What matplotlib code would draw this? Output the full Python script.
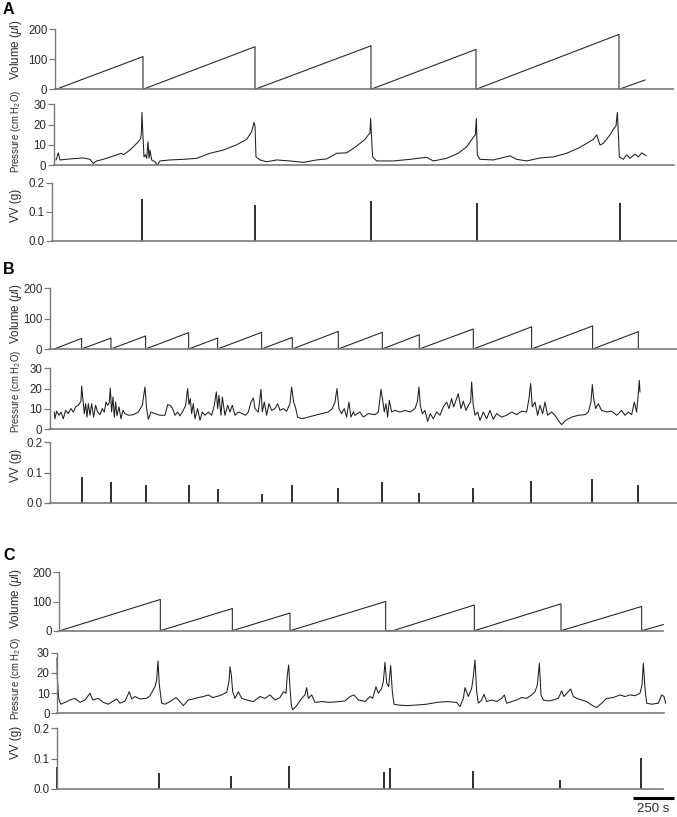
import matplotlib
matplotlib.use('Agg')
import matplotlib.pyplot as plt
from matplotlib import transforms

plt.rcParams['font.family'] = ['Liberation Sans', 'DejaVu Sans']
plt.rcParams['mathtext.fontset'] = 'custom'
plt.rcParams['mathtext.rm'] = 'Liberation Sans'
plt.rcParams['mathtext.it'] = 'Liberation Sans:italic'

# ---------------- data (time in s) ----------------
# panel A
a_vol_start = [0, 522, 1194, 1890, 2520, 3378]
a_vol_end = [522, 1194, 1890, 2520, 3378, 3534]
a_vol_peak = [109, 142, 145, 133, 183, 31]

a_pres_t = [0, 14, 24, 84, 164, 204, 224, 244, 284, 364,
            394, 404, 444, 494, 508, 512, 516, 522, 528, 536,
            544, 552, 558, 564, 574, 594, 608, 624, 684, 764,
            844, 924, 1004, 1084, 1144, 1174, 1188, 1194, 1200, 1224,
            1264, 1324, 1404, 1484, 1564, 1624, 1684, 1744, 1804, 1824,
            1854, 1874, 1884, 1888, 1894, 1900, 1914, 1924, 2024, 2124,
            2224, 2264, 2344, 2414, 2464, 2504, 2516, 2522, 2528, 2544,
            2624, 2724, 2764, 2824, 2904, 2984, 3064, 3144, 3224, 3244,
            3264, 3284, 3324, 3344, 3360, 3368, 3374, 3380, 3404, 3424,
            3444, 3474, 3494, 3514, 3540]
a_pres_p = [2.5, 6, 2.5, 3, 3.5, 2.8, 0.8, 2, 2.8, 5,
            5.8, 5, 7.4, 11.5, 13, 15.7, 26, 14, 4, 5,
            3.3, 11.5, 3.3, 7.4, 2.5, 1.6, 0, 2, 2.5, 2.8,
            3.3, 5.8, 7.4, 10, 12.7, 16.5, 21, 19.3, 4, 2.5,
            1.6, 2.5, 2, 1.3, 2.5, 3, 5.8, 6, 9.4, 10.7,
            12.7, 14.9, 15.7, 23, 12.4, 4, 2.8, 2, 2, 2.8,
            3.8, 2, 3.3, 5.8, 9, 13.7, 14.9, 23, 5, 2.8,
            2.5, 4.5, 2.8, 2, 3.5, 4, 5.8, 8.7, 12.7, 14.9,
            9.9, 10.7, 14.9, 17.7, 19.3, 26, 15.7, 4, 2.8, 5,
            3.3, 5.4, 4, 6, 4.6]

a_vv_t = [516, 1194, 1890, 2526, 3382]
a_vv_g = [0.143, 0.123, 0.138, 0.129, 0.131]

# panel B
b_vol_start = [0, 164, 340, 548, 806, 980, 1244, 1428, 1704, 1968, 2190, 2514, 2864, 3230]
b_vol_end = [164, 340, 548, 806, 980, 1244, 1428, 1704, 1968, 2190, 2514, 2864, 3230, 3504]
b_vol_peak = [35, 36, 43, 54, 36, 55, 38, 58, 55, 47, 66, 73, 76, 57]

b_pres_t = [0, 4, 14, 28, 40, 54, 68, 84, 100, 114,
            128, 144, 160, 164, 172, 180, 188, 196, 204, 214,
            224, 236, 248, 260, 274, 288, 300, 310, 320, 330,
            336, 344, 352, 360, 368, 376, 388, 400, 412, 424,
            444, 474, 504, 528, 544, 554, 564, 580, 604, 634,
            664, 680, 694, 708, 724, 740, 754, 774, 788, 800,
            808, 816, 824, 834, 844, 860, 874, 888, 904, 924,
            944, 960, 972, 980, 988, 1000, 1008, 1024, 1040, 1054,
            1068, 1084, 1104, 1128, 1148, 1164, 1180, 1194, 1204, 1224,
            1240, 1248, 1260, 1274, 1288, 1304, 1324, 1340, 1354, 1374,
            1394, 1414, 1424, 1436, 1448, 1460, 1484, 1524, 1564, 1604,
            1644, 1668, 1684, 1696, 1708, 1724, 1740, 1754, 1768, 1780,
            1794, 1804, 1834, 1854, 1884, 1924, 1944, 1954, 1960, 1972,
            1980, 1990, 2000, 2010, 2024, 2044, 2074, 2104, 2134, 2164,
            2178, 2188, 2196, 2208, 2224, 2240, 2256, 2274, 2294, 2314,
            2334, 2354, 2368, 2384, 2396, 2410, 2424, 2440, 2454, 2470,
            2484, 2498, 2504, 2514, 2524, 2540, 2554, 2574, 2594, 2614,
            2634, 2654, 2684, 2714, 2744, 2774, 2804, 2834, 2848, 2858,
            2868, 2884, 2900, 2914, 2930, 2944, 2960, 2984, 3004, 3028,
            3044, 3068, 3104, 3144, 3184, 3204, 3220, 3228, 3236, 3248,
            3264, 3284, 3314, 3344, 3374, 3404, 3424, 3444, 3464, 3480,
            3494, 3504, 3510, 3514]
b_pres_p = [8.5, 5.2, 8.9, 6.9, 8.5, 5.2, 9.3, 7.7, 10.2, 8.5,
            11, 11.8, 13.8, 21.3, 14.3, 7.7, 12.6, 6, 12.6, 6.9,
            12.6, 6, 11.8, 8.5, 7.2, 10.2, 8.5, 13.4, 11.8, 13.1,
            20.3, 8.5, 15.9, 6, 13.4, 6.6, 11, 5.2, 9.3, 7.7,
            6.9, 7.2, 8.5, 11.8, 20.8, 10.2, 4.9, 8.5, 7.7, 6.9,
            6.9, 12.1, 11.8, 10.5, 6.9, 8.5, 6.6, 9.3, 11.8, 20,
            12.1, 15.1, 7.7, 12.6, 5.2, 10.2, 4.4, 8.5, 6.9, 8.5,
            6.9, 11.8, 18.4, 10.2, 16.7, 6.9, 15.9, 6.9, 11.8, 8.5,
            11.8, 6.9, 8.5, 7.7, 6.9, 8.5, 13.4, 15.4, 10.2, 8.5,
            19.7, 8.5, 13.4, 6.9, 12.6, 9.3, 10.2, 12.6, 9.3, 10.2,
            8.9, 12.6, 20.8, 13.4, 10.5, 6, 5.2, 6, 6.9, 7.7,
            8.5, 10.2, 13.4, 20, 10.2, 7.7, 10.2, 6, 13.4, 6,
            8.5, 6.9, 8.5, 6, 7.7, 7.2, 8.5, 15.1, 19.7, 13.4,
            8.5, 12.6, 6, 14.3, 8.5, 9.3, 8.5, 9.3, 8.5, 10.2,
            13.4, 20.8, 11.8, 7.7, 9.3, 3.9, 7.7, 5.2, 8.5, 6.9,
            11, 13.4, 10.2, 15.1, 11, 14.3, 17.5, 10.2, 13.8, 9.3,
            11.8, 13.4, 23.3, 11.8, 6.9, 8.5, 4.4, 8.5, 5.2, 9.3,
            4.9, 7.7, 6, 6.9, 8.5, 7.2, 8.9, 8.5, 15.1, 22.5,
            11, 13.4, 6.9, 11.8, 7.7, 13.4, 6.9, 8.5, 6.9, 3.9,
            2.3, 4.4, 6, 6.9, 7.2, 8.5, 13.4, 22, 15.1, 10.2,
            12.6, 9.3, 8.5, 8.9, 6.9, 9.3, 6.9, 8.5, 7.2, 13.4,
            8.5, 17.5, 24.1, 18.4]

b_vv_t = [164, 340, 548, 806, 980, 1244, 1428, 1700, 1964, 2190, 2510, 2862, 3228, 3500]
b_vv_g = [0.084, 0.068, 0.058, 0.060, 0.047, 0.030, 0.059, 0.048, 0.068, 0.032,
          0.048, 0.071, 0.078, 0.059]

# panel C
c_vol_start = [18, 620, 1052, 1398, 2016, 2504, 3024, 3508]
c_vol_end = [620, 1052, 1398, 1972, 2504, 3024, 3508, 3638]
c_vol_peak = [107, 76, 60.5, 100, 88, 92, 83, 21]

c_pres_t = [0, 2, 10, 22, 48, 78, 108, 138, 168, 198,
            214, 248, 278, 308, 358, 378, 408, 434, 448, 468,
            498, 538, 558, 588, 598, 606, 614, 628, 648, 678,
            714, 738, 758, 788, 818, 848, 878, 908, 934, 958,
            988, 1018, 1032, 1038, 1046, 1054, 1068, 1088, 1108, 1138,
            1178, 1218, 1248, 1278, 1308, 1338, 1358, 1374, 1382, 1390,
            1398, 1406, 1414, 1438, 1468, 1488, 1498, 1508, 1528, 1548,
            1588, 1638, 1688, 1728, 1758, 1782, 1808, 1838,
            1848, 1878, 1894, 1914, 1928, 1948, 1958, 1968, 1978, 1990,
            2002, 2012, 2022, 2048, 2098, 2158, 2218, 2278, 2338, 2398,
            2418, 2438, 2448, 2468, 2488, 2498, 2508, 2518, 2528, 2548,
            2562, 2578, 2608, 2638, 2668, 2684, 2698, 2728, 2758, 2788,
            2818, 2848, 2868, 2882, 2894, 2904, 2918, 2948, 2978, 3008,
            3028, 3042, 3058, 3082, 3098, 3118, 3148, 3178, 3208, 3238,
            3268, 3298, 3338, 3378, 3408, 3438, 3468, 3498, 3510, 3518,
            3528, 3538, 3568, 3608, 3628, 3642, 3652]
c_pres_p = [27.2, 17.3, 7.4, 4.5, 5.4, 6.6, 7.4, 5.4, 6.6, 9.9,
            6.6, 7.4, 5.4, 4.5, 7.1, 5, 6.1, 10.7, 7.1, 8.3,
            7.1, 7.4, 8.7, 13.2, 16.5, 25.9, 14, 5, 4.5, 5.8,
            7.8, 5.8, 3.8, 6.6, 7.1, 7.8, 8.3, 9.1, 7.8, 8.3,
            9.1, 10.4, 15.7, 23.1, 19, 10.7, 7.4, 10.7, 7.4, 6.6,
            5.8, 8.3, 7.4, 9.1, 6.6, 7.8, 10.7, 9.9, 19, 23.9,
            12.4, 4.1, 1.7, 3.8, 7.4, 9.1, 12.7, 7.4, 9.1, 5.4,
            5.8, 5.4, 5.8, 6.1, 8.3, 9.1, 6.6, 6.1,
            5.8, 8.3, 7.4, 13.2, 9.9, 12.4, 15.7, 25.2, 14.9, 13.2,
            23.6, 10.7, 4.5, 4.1, 3.8, 4.1, 4.5, 5.4, 5.8, 5.4,
            3.3, 7.4, 12.7, 8.3, 12.4, 18.2, 26.4, 10.7, 5, 6.6,
            9.4, 5.8, 6.6, 5.8, 7.4, 9.1, 5, 5.8, 6.6, 7.8,
            7.4, 9.1, 10.7, 14, 24.8, 9.1, 6.6, 6.1, 6.6, 7.4,
            11.1, 8.3, 9.9, 12, 8.3, 7.4, 6.6, 5.8, 4.1, 2.8,
            5, 7.4, 7.8, 9.1, 8.3, 9.1, 8.7, 9.9, 14, 24.8,
            12.4, 5, 4.5, 5, 9.1, 8.3, 5]

c_vv_t = [2, 610, 1044, 1390, 1962, 1996, 2498, 3018, 3502]
c_vv_g = [0.073, 0.053, 0.043, 0.074, 0.055, 0.067, 0.058, 0.030, 0.101]

scale_len = 250  # s

vol_ticks = [0, 100, 200]
pres_ticks = [0, 10, 20, 30]
vv_ticks = [0.0, 0.1, 0.2]
vv_ticklabels = ['0.0', '0.1', '0.2']

# ---------------- layout ----------------
W, H = 677, 817
SEC_PER_PX = 6.0
AXC = '#7a7a7a'
LINEC = '#1e1e1e'

fig = plt.figure(figsize=(W / 100, H / 100), dpi=100)


def px_axes(left, right, y_zero, y_top, x0):
    ax = fig.add_axes([left / W, 1 - y_zero / H, (right - left) / W, (y_zero - y_top) / H])
    ax.set_xlim((left - x0) * SEC_PER_PX, (right - x0) * SEC_PER_PX)
    ax.patch.set_visible(False)
    for s in ['top', 'right']:
        ax.spines[s].set_visible(False)
    ax.spines['left'].set_color(AXC)
    ax.spines['left'].set_linewidth(1.0)
    ax.spines['bottom'].set_color(AXC)
    ax.spines['bottom'].set_linewidth(1.2)
    ax.tick_params(axis='x', bottom=False, labelbottom=False)
    ax.tick_params(axis='y', length=4, width=0.9, color=AXC, labelsize=8.3,
                   labelcolor='#2a2a2a', pad=1.5)
    return ax


def volume_line(starts, ends, peaks, drop_last):
    xs, ys = [], []
    for i, (s, e, p) in enumerate(zip(starts, ends, peaks)):
        xs += [s, e]
        ys += [0, p]
        if i < len(starts) - 1 or drop_last:
            xs.append(e)
            ys.append(0)
    return xs, ys


def ylab(x, y, text, size):
    fig.text(x / W, 1 - y / H, text, rotation=90, ha='center', va='center',
             fontsize=size, color='#2a2a2a')


panels = [
    dict(letter='A', ly=10, x0=56,
         vol=(55, 673, 89.3, 29.3), pres=(54, 674, 165, 104.3), vv=(52, 677, 240.7, 182.7),
         labs=(50, 131, 205),
         v=(a_vol_start, a_vol_end, a_vol_peak, False), p=(a_pres_t, a_pres_p), g=(a_vv_t, a_vv_g)),
    dict(letter='B', ly=269, x0=54.3,
         vol=(50, 677, 349, 288.3), pres=(50, 677, 429.3, 368.3), vv=(50, 677, 502.7, 442.3),
         labs=(314, 391, 465),
         v=(b_vol_start, b_vol_end, b_vol_peak, True), p=(b_pres_t, b_pres_p), g=(b_vv_t, b_vv_g)),
    dict(letter='C', ly=556, x0=57,
         vol=(59.3, 663, 630.7, 572.3), pres=(57.3, 664, 713.3, 652.7), vv=(57.3, 663, 788.7, 728.3),
         labs=(599, 678, 742),
         v=(c_vol_start, c_vol_end, c_vol_peak, False), p=(c_pres_t, c_pres_p), g=(c_vv_t, c_vv_g)),
]

for pn in panels:
    fig.text(3 / W, 1 - pn['ly'] / H, pn['letter'], fontsize=11.5, fontweight='bold',
             ha='left', va='center')

    ax = px_axes(*pn['vol'], pn['x0'])
    xs, ys = volume_line(*pn['v'])
    ax.plot(xs, ys, color=LINEC, lw=0.75, clip_on=False)
    ax.set_ylim(0, 200)
    ax.set_yticks(vol_ticks)

    ax = px_axes(*pn['pres'], pn['x0'])
    ax.plot(pn['p'][0], pn['p'][1], color=LINEC, lw=0.75, clip_on=False)
    ax.set_ylim(0, 30)
    ax.set_yticks(pres_ticks)

    ax = px_axes(*pn['vv'], pn['x0'])
    ax.vlines(pn['g'][0], 0, pn['g'][1], color=LINEC, lw=1.3, clip_on=False)
    ax.set_ylim(0, 0.2)
    ax.set_yticks(vv_ticks)
    ax.set_yticklabels(vv_ticklabels)
    vv_ax = ax

    ylab(16, pn['labs'][0], r'Volume ($\mu$l)', 8.4)
    ylab(16, pn['labs'][1], r'Pressure (cm H$_2$O)', 6.9)
    ylab(16, pn['labs'][2], 'VV (g)', 8.4)

# scale bar on the last VV axes
trans = transforms.blended_transform_factory(vv_ax.transData, vv_ax.transAxes)
sb_x0 = (632.5 - 57) * SEC_PER_PX
vv_ax.plot([sb_x0, sb_x0 + scale_len], [-0.155, -0.155], color='black', lw=2.2,
           transform=trans, clip_on=False, solid_capstyle='butt')
vv_ax.text(sb_x0 + scale_len / 2, -0.34, '250 s', transform=trans, ha='center', va='center',
           fontsize=9.5, color='#2a2a2a')

fig.savefig('out.png', dpi=100)
